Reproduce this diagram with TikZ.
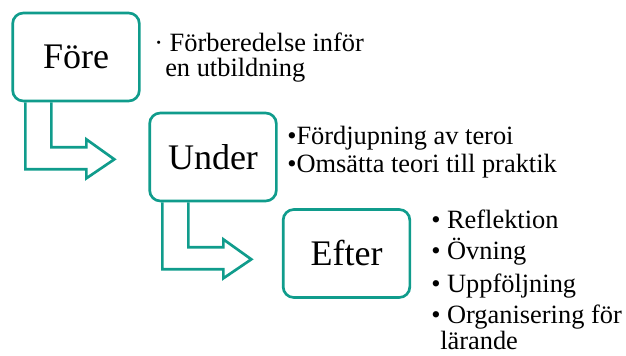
\documentclass[tikz,border=0pt]{standalone}
\usepackage{fontspec}
\setmainfont{Liberation Serif}
\usetikzlibrary{calc}
\definecolor{phasecolor}{RGB}{16, 156, 140}
\tikzset{%
    phase/.style={%
        draw=phasecolor,
        line width=2pt,
        rounded corners=8pt,
        fill=white,
        inner sep=0pt,
        minimum width=95pt,
        minimum height=66pt,
        font=\fontsize{27}{32}\selectfont
    },
    notes/.style={%
        align=left,
        anchor=base west,
        inner sep=0pt,
        font=\fontsize{19.8}{19.5}\selectfont
    }
}
\tikzset{%
    bentarrow/.pic={%
        code{%
            \draw[phasecolor, line width=2pt, line join=miter]
                (14, 0) -- (14, 67) -- (75, 67) -- (75, 76) -- (103, 57)
                -- (75, 37) -- (75, 45) -- (40, 45) -- (40, 0);
        }
    }
}
\begin{document}
\begin{tikzpicture}[x=0.75pt, y=-0.75pt]
    \useasboundingbox (0, 0) rectangle (626, 356);

    % Phases
    \node[phase] (fore) at (76, 57) {Före};
    \node[phase] (under) at (213, 157) {Under};
    \node[phase] (efter) at (346.5, 253.5) {Efter};

    % Bent arrows between phases
    \path (fore.south west) pic {bentarrow}
          (under.south west) pic {bentarrow};

    % Notes (anchored at the baseline of the last line)
    \node[notes] (forenotes) at (154, 77)
        {·\ Förberedelse inför\\[-0.75pt]\hspace{8.25pt}en utbildning};
    \node[notes] (undernotes) at (287, 173)
        {•Fördjupning av teroi\\[1.5pt]•Omsätta teori till praktik};
    \node[notes] (efternotes) at (431, 350)
        {• Reflektion\\[4.5pt]• Övning\\[4.5pt]• Uppföljning\\[4.5pt]%
         • Organisering för\\\hspace{6.75pt}lärande};

\end{tikzpicture}
\end{document}
